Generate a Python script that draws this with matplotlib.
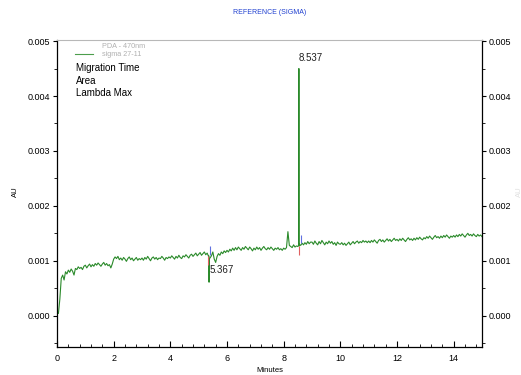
import numpy as np
import matplotlib
matplotlib.use('Agg')
import matplotlib.pyplot as plt
from matplotlib.ticker import MultipleLocator, FormatStrFormatter

plt.rcParams['font.family'] = ['Liberation Sans', 'DejaVu Sans']

# baseline trace, AU x 1e-4, one row per minute, sampled every 0.05 min
trace_rows = [
    [0.5, 0.4, 3.0, 6.8, 7.4, 6.5, 8.0, 7.6, 8.3, 7.9, 8.5, 8.1, 7.4, 8.6, 8.4, 8.9, 8.6, 8.8, 8.4, 9.0],
    [9.2, 8.7, 9.1, 9.4, 8.9, 9.3, 9.0, 9.5, 9.2, 9.6, 9.3, 9.0, 9.4, 9.7, 9.2, 9.5, 9.1, 9.3, 8.7, 9.4],
    [10.3, 10.7, 10.4, 10.8, 10.2, 10.5, 10.1, 10.6, 10.3, 9.9, 10.4, 10.7, 10.2, 10.5, 10.0, 10.3, 10.6, 10.1, 10.4, 10.2],
    [10.5, 10.1, 10.6, 10.3, 10.8, 10.4, 10.0, 10.5, 10.7, 10.3, 10.6, 10.2, 10.5, 10.4, 10.8, 10.5, 10.1, 10.6, 10.4, 10.7],
    [10.5, 10.9, 10.6, 10.3, 10.8, 10.5, 11.0, 10.6, 10.4, 10.9, 10.7, 11.1, 10.8, 10.5, 11.0, 11.2, 10.8, 11.1, 11.4, 10.9],
    [11.2, 11.5, 11.0, 11.3, 11.6, 11.1, 11.4, 10.8, 10.5, 10.9, 11.6, 10.3, 9.7, 10.8, 11.3, 11.0, 11.6, 11.3, 11.8, 11.5],
    [11.9, 11.6, 12.1, 11.8, 12.3, 11.9, 12.4, 12.0, 12.5, 12.2, 11.9, 12.4, 12.1, 12.6, 12.3, 12.0, 12.5, 12.2, 11.8, 12.3],
    [12.0, 12.5, 12.1, 12.4, 11.9, 12.3, 12.6, 12.2, 12.0, 12.4, 12.1, 12.5, 12.2, 11.9, 12.3, 12.1, 12.4, 12.0, 12.2, 11.9],
    [12.3, 12.1, 12.4, 15.3, 12.8, 12.6, 12.4, 12.9, 12.5, 12.7, 12.6, 13.0, 12.8, 13.2, 12.9, 13.3, 13.0, 13.5, 13.1, 13.4],
    [13.4, 13.0, 13.6, 13.2, 12.9, 13.5, 13.1, 13.7, 13.3, 12.9, 13.4, 13.1, 13.6, 13.2, 13.5, 13.0, 13.3, 12.8, 13.4, 13.1],
    [13.0, 13.3, 12.9, 13.2, 12.8, 13.1, 13.4, 12.9, 13.2, 13.5, 13.1, 13.4, 13.6, 13.2, 13.5, 13.3, 13.7, 13.4, 13.6, 13.3],
    [13.6, 13.3, 13.7, 13.4, 13.8, 13.5, 13.2, 13.7, 13.9, 13.5, 13.8, 13.4, 13.7, 14.0, 13.6, 13.9, 13.5, 13.8, 14.1, 13.7],
    [13.9, 13.6, 14.0, 13.7, 14.1, 13.8, 13.5, 13.9, 14.2, 13.8, 14.0, 13.7, 14.1, 13.8, 14.2, 13.9, 14.3, 14.0, 13.8, 14.2],
    [14.0, 14.4, 14.1, 14.5, 14.2, 13.9, 14.3, 14.6, 14.2, 14.4, 14.1, 14.5, 14.2, 14.6, 14.3, 14.7, 14.4, 14.1, 14.5, 14.3],
    [14.6, 14.3, 14.7, 14.4, 14.8, 14.5, 14.9, 14.6, 14.3, 14.7, 15.0, 14.6, 14.8, 14.5, 14.9, 14.6, 14.4, 14.8, 14.5, 14.7],
    [14.4],
]
sample_step = 0.05

# narrow peaks (time in min, AU x 1e-4)
spike_times = [5.360, 5.367, 5.374, 8.527, 8.537, 8.547]
spike_values = [10.9, 6.1, 10.4, 12.8, 45.0, 12.7]

# peak labels
peak_times = [5.367, 8.537]
peak_label_y = [0.00084, 0.00469]

# integration marks (start red, apex blue)
mark_times = [5.32, 5.39, 8.53, 8.60]
mark_low = [0.00093, 0.00111, 0.00111, 0.00133]
mark_high = [0.00109, 0.00126, 0.00126, 0.00147]
mark_colors = ['#e06060', '#6070e0', '#e06060', '#6070e0']

base_vals = np.concatenate([np.array(r) for r in trace_rows])
base_t = np.arange(len(base_vals)) * sample_step
t = np.concatenate([base_t, spike_times])
y = np.concatenate([base_vals, spike_values]) * 1e-4
order = np.argsort(t, kind='stable')
t, y = t[order], y[order]

fig = plt.figure(figsize=(5.21, 3.75), dpi=100)
ax = fig.add_axes([57 / 521, 28 / 375, 425 / 521, 307 / 375])

ax.plot(t, y, color='#2a8a2a', lw=0.8)
ax.vlines(mark_times, mark_low, mark_high, colors=mark_colors, lw=0.8)

for pt, py in zip(peak_times, peak_label_y):
    ax.text(pt, py, f'{pt:.3f}', fontsize=7, ha='left', va='center', color='#202020')

ax.set_xlim(0, 15)
ax.set_ylim(-0.00057, 0.00502)

ax.xaxis.set_major_locator(MultipleLocator(2))
ax.xaxis.set_minor_locator(MultipleLocator(0.4))
ax.yaxis.set_major_locator(MultipleLocator(0.001))
ax.yaxis.set_minor_locator(MultipleLocator(0.0005))
ax.yaxis.set_major_formatter(FormatStrFormatter('%.3f'))

ax.tick_params(axis='x', which='both', direction='in', labelsize=6.5, pad=5)
ax.tick_params(axis='x', which='major', length=4)
ax.tick_params(axis='x', which='minor', length=2.5)
ax.tick_params(axis='y', which='both', left=True, right=True, labelleft=True,
               labelright=True, labelsize=6.5, pad=2)
ax.tick_params(axis='y', which='major', length=3)
ax.tick_params(axis='y', which='minor', length=2)

for side in ['left', 'right', 'bottom']:
    ax.spines[side].set_linewidth(0.9)
ax.spines['top'].set_color('#b8b8b8')
ax.spines['top'].set_linewidth(0.8)

# legend block
ax.plot([0.042, 0.085], [0.955, 0.955], transform=ax.transAxes, color='#4c9e4c', lw=0.8)
ax.text(0.106, 0.979, 'PDA - 470nm', transform=ax.transAxes, fontsize=5.2,
        color='#b0b0b0', va='center')
ax.text(0.106, 0.953, 'sigma 27-11', transform=ax.transAxes, fontsize=5.2,
        color='#b0b0b0', va='center')
ax.text(0.045, 0.91, 'Migration Time', transform=ax.transAxes, fontsize=7, va='center')
ax.text(0.045, 0.868, 'Area', transform=ax.transAxes, fontsize=7, va='center')
ax.text(0.045, 0.826, 'Lambda Max', transform=ax.transAxes, fontsize=7, va='center')

fig.text(270 / 521, 1 - 12 / 375, 'REFERENCE (SIGMA)', fontsize=5, color='#2040d0',
         ha='center', va='center')
fig.text(15 / 521, 1 - 192 / 375, 'AU', fontsize=5.5, rotation=90, ha='center', va='center')
fig.text(519 / 521, 1 - 192 / 375, 'AU', fontsize=5.5, rotation=90, ha='center',
         va='center', color='#e0e0e0')
fig.text(270 / 521, 1 - 370 / 375, 'Minutes', fontsize=5.5, ha='center', va='center')

fig.savefig('out.png', dpi=100)
